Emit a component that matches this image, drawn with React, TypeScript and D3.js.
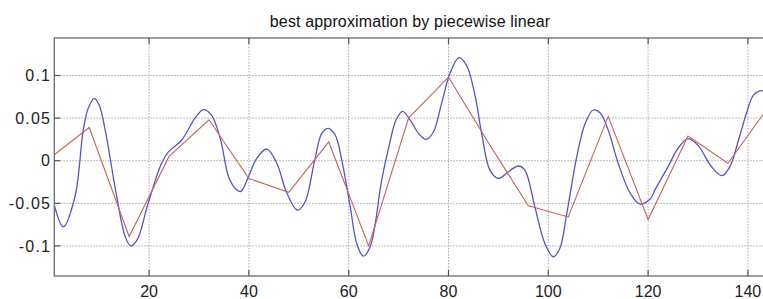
import React from "react";
import * as d3 from "d3";

const title = "best approximation by piecewise linear";

const xTicks = [20, 40, 60, 80, 100, 120, 140];
const yTicks = [-0.1, -0.05, 0, 0.05, 0.1];
const yTickLabels = ["-0.1", "-0.05", "0", "0.05", "0.1"];

const signalX = [
  1, 2.8, 5.15, 6.8, 7.8, 9, 10, 11.2, 13.5, 15.2, 16.3, 17.6, 19.8, 22.5, 23.9,
  26.5, 29.2, 30.9, 32.5, 34.3, 36, 37.5, 38.4, 39.9, 41.6, 43.6, 45.6, 47.6,
  49.7, 51.2, 53.2, 54.6, 55.9, 57.3, 58.6, 60.3, 61.6, 62.9, 64.3, 66.6, 68,
  69.5, 70.8, 72.3, 74, 75.5, 77, 78.6, 80.3, 82.1, 83.6, 85.3, 86.7, 88.3, 90,
  92, 94, 95.3, 97.3, 99.3, 101, 102.3, 103.7, 105.7, 107.4, 109, 110.4, 112,
  114, 116.4, 118.4, 120.4, 121.4, 124, 126, 128, 130, 132.7, 134.8, 136.4,
  138.1, 139.8, 141.1, 142.4, 143.5, 145,
];
const signalY = [
  -0.052, -0.0775, -0.042, 0.036, 0.0615, 0.0732, 0.065, 0.036, -0.042, -0.089,
  -0.1, -0.093, -0.05, -0.003, 0.0106, 0.024, 0.05, 0.06, 0.0536, 0.025, -0.02,
  -0.034, -0.036, -0.019, 0.003, 0.0137, -0.003, -0.038, -0.058, -0.049, 0.001,
  0.032, 0.038, 0.03, 0.001, -0.054, -0.097, -0.112, -0.101, -0.023, 0.015,
  0.048, 0.058, 0.048, 0.032, 0.025, 0.034, 0.067, 0.1026, 0.121, 0.112, 0.077,
  0.03, -0.011, -0.0207, -0.013, -0.0062, -0.011, -0.054, -0.097, -0.1127,
  -0.103, -0.062, 0.0047, 0.044, 0.0595, 0.056, 0.036, -0.003, -0.038, -0.051,
  -0.045, -0.034, -0.007, 0.0146, 0.026, 0.018, -0.007, -0.0176, -0.007, 0.024,
  0.0575, 0.077, 0.082, 0.081, 0.072,
];

const knotX = [1, 8, 16, 24, 32, 40, 48, 56, 64, 72, 80, 88, 96, 104, 112, 120, 128, 136, 144];
const knotY = [
  0.007, 0.039, -0.089, 0.005, 0.048, -0.021, -0.037, 0.022, -0.1, 0.05, 0.098,
  0.021, -0.053, -0.066, 0.052, -0.069, 0.029, -0.003, 0.062,
];

const W = 763;
const H = 299;
const left = 54.3;
const top = 38;
const bottom = 276;
const xDomain: [number, number] = [1, 144];
const yDomain: [number, number] = [-0.1353, 0.144];

export default function App() {
  const x = d3.scaleLinear().domain(xDomain).range([left, left + (xDomain[1] - xDomain[0]) * 4.99]);
  const y = d3.scaleLinear().domain(yDomain).range([bottom, top]);
  const right = x(xDomain[1]);

  const signal = signalX.map((v, i) => [v, signalY[i]] as [number, number]);
  const knots = knotX.map((v, i) => [v, knotY[i]] as [number, number]);

  const blueLine = d3
    .line<[number, number]>()
    .x((d) => x(d[0]))
    .y((d) => y(d[1]))
    .curve(d3.curveCatmullRom.alpha(0.5));
  const redLine = d3
    .line<[number, number]>()
    .x((d) => x(d[0]))
    .y((d) => y(d[1]));

  const font = "'Liberation Sans', Arial, Helvetica, sans-serif";
  const axisColor = "#6a6a6a";
  const gridColor = "#a8a8a8";

  return (
    <div style={{ position: "fixed", left: 0, top: 0, width: W, height: H, background: "#fff" }}>
      <svg width={W} height={H} style={{ display: "block" }}>
        <defs>
          <clipPath id="plotclip">
            <rect x={left} y={top} width={right - left} height={bottom - top} />
          </clipPath>
        </defs>
        <rect x={0} y={0} width={W} height={H} fill="#fff" />
        {xTicks.map((t) => (
          <line
            key={"gx" + t}
            x1={x(t)}
            x2={x(t)}
            y1={top}
            y2={bottom}
            stroke={gridColor}
            strokeWidth={1}
            strokeDasharray="1.5,1.5"
          />
        ))}
        {yTicks.map((t) => (
          <line
            key={"gy" + t}
            x1={left}
            x2={right}
            y1={y(t)}
            y2={y(t)}
            stroke={gridColor}
            strokeWidth={1}
            strokeDasharray="1.5,1.5"
          />
        ))}
        <g clipPath="url(#plotclip)">
          <path d={blueLine(signal) || ""} fill="none" stroke="#5656c2" strokeWidth={1.3} />
          <path d={redLine(knots) || ""} fill="none" stroke="#c9625a" strokeWidth={1.1} />
        </g>
        <rect
          x={left}
          y={top}
          width={right - left}
          height={bottom - top}
          fill="none"
          stroke={axisColor}
          strokeWidth={1.3}
        />
        {xTicks.map((t) => (
          <g key={"tx" + t}>
            <line x1={x(t)} x2={x(t)} y1={bottom} y2={bottom - 6} stroke="#555" strokeWidth={1.2} />
            <line x1={x(t)} x2={x(t)} y1={top} y2={top + 6} stroke="#555" strokeWidth={1.2} />
            <text x={x(t)} y={297} textAnchor="middle" fontFamily={font} fontSize={16} fill="#222">
              {t}
            </text>
          </g>
        ))}
        {yTicks.map((t, i) => (
          <g key={"ty" + t}>
            <line x1={left} x2={left + 6} y1={y(t)} y2={y(t)} stroke="#555" strokeWidth={1.2} />
            <text
              x={51.2}
              y={y(t)}
              dy="0.36em"
              textAnchor="end"
              fontFamily={font}
              fontSize={16}
              letterSpacing={1.2}
              fill="#222"
            >
              {yTickLabels[i]}
            </text>
          </g>
        ))}
        <text
          x={(left + right) / 2 - 1}
          y={26.5}
          textAnchor="middle"
          fontFamily={font}
          fontSize={16}
          letterSpacing={0.15}
          fill="#111"
        >
          {title}
        </text>
      </svg>
    </div>
  );
}
